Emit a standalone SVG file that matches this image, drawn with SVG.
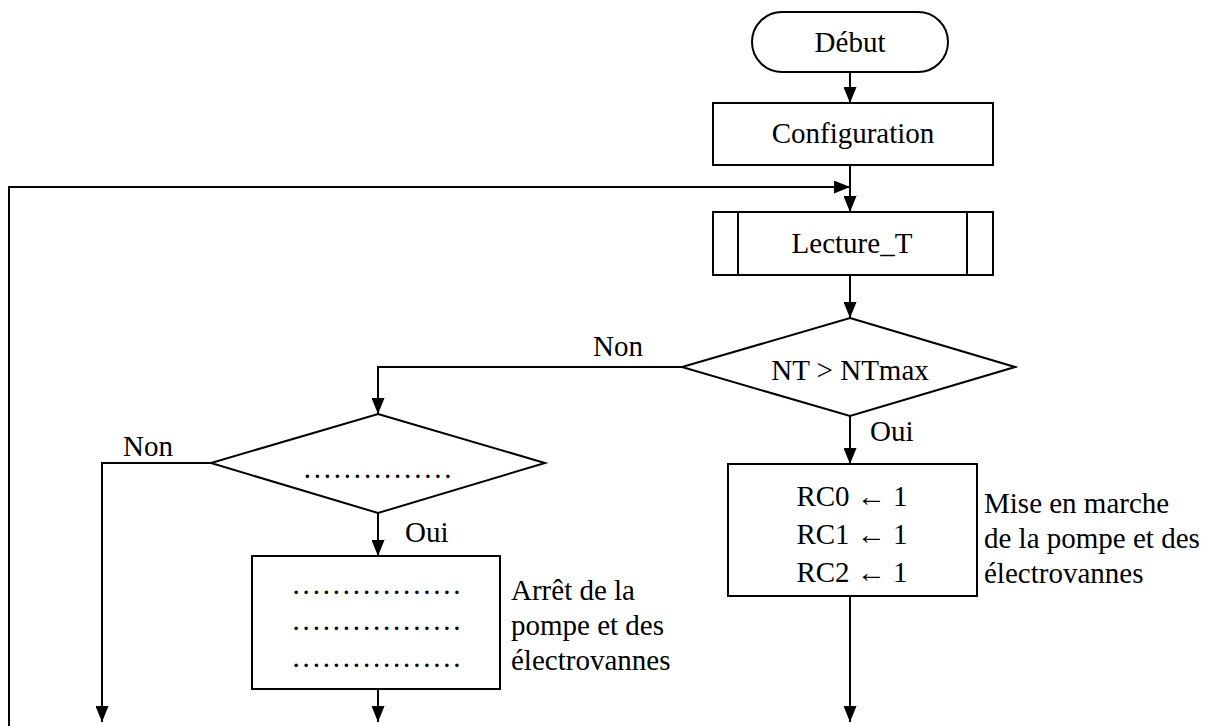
<svg xmlns="http://www.w3.org/2000/svg" width="1215" height="726" viewBox="0 0 1215 726">
  <style>
    .shape { fill: #fff; stroke: #000; stroke-width: 2; }
    .wire { fill: none; stroke: #000; stroke-width: 2; }
    text { font-family: "Liberation Serif", "Times New Roman", Tinos, "DejaVu Serif", serif; font-size: 29px; fill: #000; }
    .mid { text-anchor: middle; }
    .dots { letter-spacing: 2.8px; }
  </style>
  <defs>
    <marker id="arrow" viewBox="0 0 16 13" refX="16" refY="6.5" markerWidth="16" markerHeight="13" markerUnits="userSpaceOnUse" orient="auto">
      <path d="M0,0 L16,6.5 L0,13 Z" fill="#000"/>
    </marker>
  </defs>
  <rect width="1215" height="726" fill="#fff"/>

  <!-- flow lines and branch labels -->
  <g id="connectors">
    <line class="wire" x1="850" y1="72" x2="850" y2="103" marker-end="url(#arrow)"/>
    <line class="wire" x1="850" y1="165" x2="850" y2="212" marker-end="url(#arrow)"/>
    <polyline class="wire" points="9,726 9,187 850,187" marker-end="url(#arrow)"/>
    <line class="wire" x1="850" y1="275" x2="850" y2="318" marker-end="url(#arrow)"/>
    <polyline class="wire" points="682,367 378,367 378,414" marker-end="url(#arrow)"/>
    <line class="wire" x1="850" y1="416" x2="850" y2="464" marker-end="url(#arrow)"/>
    <line class="wire" x1="850" y1="596" x2="850" y2="722" marker-end="url(#arrow)"/>
    <polyline class="wire" points="211,463 102,463 102,722" marker-end="url(#arrow)"/>
    <line class="wire" x1="378" y1="513" x2="378" y2="556" marker-end="url(#arrow)"/>
    <line class="wire" x1="378" y1="689" x2="378" y2="722" marker-end="url(#arrow)"/>
    <text x="593" y="356">Non</text>
    <text x="870" y="441">Oui</text>
    <text x="123" y="456">Non</text>
    <text x="405" y="542">Oui</text>
  </g>

  <g id="debut">
    <rect class="shape" x="752" y="12" width="196" height="60" rx="30" ry="30"/>
    <text class="mid" x="850" y="52">Début</text>
  </g>

  <g id="configuration">
    <rect class="shape" x="713" y="103" width="280" height="62"/>
    <text class="mid" x="853" y="143">Configuration</text>
  </g>

  <g id="lecture-t">
    <rect class="shape" x="713" y="212" width="280" height="63"/>
    <line class="wire" x1="738" y1="212" x2="738" y2="275"/>
    <line class="wire" x1="967" y1="212" x2="967" y2="275"/>
    <text class="mid" x="852" y="253">Lecture_T</text>
  </g>

  <g id="test-nt">
    <polygon class="shape" points="850,318 1015,367 850,416 682,367"/>
    <text class="mid" x="850" y="380">NT &gt; NTmax</text>
  </g>

  <g id="marche">
    <rect class="shape" x="728" y="464" width="249" height="132"/>
    <text class="mid" x="852" y="506">RC0 ← 1</text>
    <text class="mid" x="852" y="544">RC1 ← 1</text>
    <text class="mid" x="852" y="582">RC2 ← 1</text>
    <text x="984" y="513">Mise en marche</text>
    <text x="984" y="548">de la pompe et des</text>
    <text x="984" y="583">électrovannes</text>
  </g>

  <g id="test-2">
    <polygon class="shape" points="378,414 545,463 378,513 211,463"/>
    <text class="mid dots" x="379" y="478">...............</text>
  </g>

  <g id="arret">
    <rect class="shape" x="252" y="556" width="248" height="133"/>
    <text class="mid dots" x="378" y="594">.................</text>
    <text class="mid dots" x="378" y="630">.................</text>
    <text class="mid dots" x="378" y="667">.................</text>
    <text x="511" y="600">Arrêt de la</text>
    <text x="511" y="635">pompe et des</text>
    <text x="511" y="670">électrovannes</text>
  </g>
</svg>
